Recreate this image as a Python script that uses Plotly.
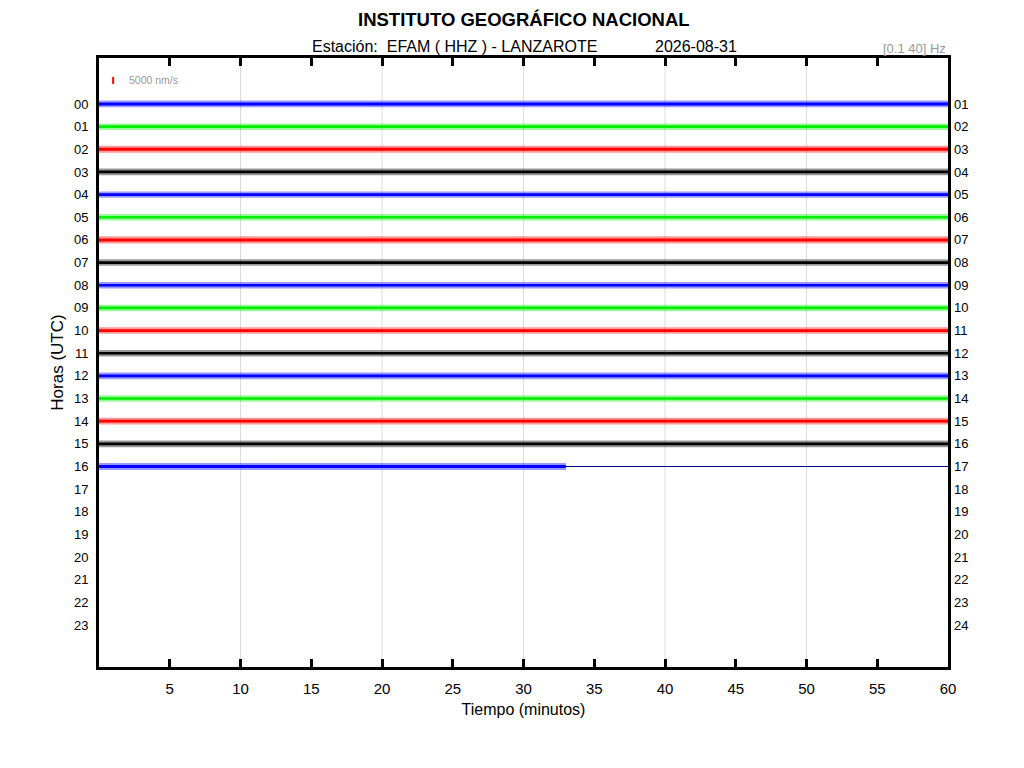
import plotly.graph_objects as go

# helicorder EFAM HHZ, una fila por hora
hours = list(range(24))
left_labels = ["%02d" % h for h in hours]
right_labels = ["%02d" % (h + 1) for h in hours]

# semiamplitud aproximada de cada traza (nm/s)
trace_hours = list(range(17))
trace_core = [1000, 950, 1050, 1000, 950, 950, 1100, 950, 950,
              950, 950, 950, 1000, 950, 1000, 1000, 1000]
trace_peak = [2400, 2300, 2500, 2400, 2300, 2300, 2600, 2300, 2300,
              2300, 2300, 2300, 2400, 2300, 2400, 2400, 2500]
trace_end = [60] * 16 + [33.0]   # la hora 16 llega hasta el minuto 33
colors = ["#0000ff", "#00ee00", "#ff0000", "#000000"]

x_ticks = [5, 10, 15, 20, 25, 30, 35, 40, 45, 50, 55, 60]
grid_minutes = [10, 20, 30, 40, 50]

scale_nms = 5000
scale_rows = 0.31   # altura de la barra de escala en filas

fig = go.Figure()

for m in grid_minutes:
    fig.add_shape(type="line", x0=m, x1=m, y0=0, y1=1, yref="paper",
                  line=dict(color="#dcdcdc", width=1), layer="below")


def band(h, a, end, c, opacity):
    return go.Scatter(x=[0, end, end, 0, 0], y=[h - a, h - a, h + a, h + a, h - a],
                      fill="toself", fillcolor=c, mode="none", opacity=opacity,
                      hoverinfo="skip", showlegend=False)


for i, h in enumerate(trace_hours):
    end = trace_end[i]
    c = colors[i % 4]
    fig.add_trace(band(h, trace_peak[i] * scale_rows / scale_nms, end, c, 0.4))
    fig.add_trace(band(h, trace_core[i] * scale_rows / scale_nms, end, c, 1.0))
    if end < 60:
        fig.add_trace(go.Scatter(x=[end, 60], y=[h, h], mode="lines",
                                 line=dict(color="#000080", width=1), showlegend=False))

# barra de escala
fig.add_trace(go.Scatter(x=[1.0, 1.0], y=[-1.04 - scale_rows / 2, -1.04 + scale_rows / 2],
                         mode="lines", line=dict(color="#ff0000", width=2), showlegend=False))
fig.add_annotation(x=1.95, y=-1.04, text="%d nm/s" % scale_nms, showarrow=False,
                   xanchor="left", font=dict(size=10.5, color="#999999"))

# eje derecho (01..24)
fig.add_trace(go.Scatter(x=[0], y=[0], yaxis="y2", mode="markers",
                         marker=dict(opacity=0), showlegend=False, hoverinfo="skip"))

# el body de la pagina tiene 8px de margen: se descuentan aqui
fig.update_layout(
    width=1016, height=760,
    margin=dict(l=91, r=76, t=50, b=101),
    plot_bgcolor="white", paper_bgcolor="white",
    font=dict(family="Liberation Sans, Arial, sans-serif", color="black"),
    xaxis=dict(range=[0, 60], tickvals=x_ticks, ticks="inside", ticklen=8, tickwidth=3,
               tickcolor="black", showgrid=False, zeroline=False, showline=True,
               linewidth=3, linecolor="black", mirror="ticks", tickfont=dict(size=15),
               ticklabelstandoff=6, automargin=False,
               title=dict(text="Tiempo (minutos)", font=dict(size=16), standoff=8)),
    yaxis=dict(range=[24.85, -2.03], tickvals=hours, ticktext=left_labels, ticks="",
               showgrid=False, zeroline=False, showline=True, linewidth=3,
               linecolor="black", mirror=True, tickfont=dict(size=13),
               ticklabelstandoff=5, automargin=False,
               title=dict(text="Horas (UTC)", font=dict(size=17), standoff=6)),
    yaxis2=dict(range=[24.85, -2.03], tickvals=hours, ticktext=right_labels, ticks="",
                overlaying="y", side="right", showgrid=False, zeroline=False,
                showline=False, tickfont=dict(size=13), ticklabelstandoff=5,
                automargin=False),
)

fig.add_annotation(text="<b>INSTITUTO GEOGRÁFICO NACIONAL</b>", x=0.5, y=1.0624,
                   xref="paper", yref="paper", xanchor="center", yanchor="middle",
                   showarrow=False, font=dict(size=18.5))
fig.add_annotation(text="Estación:  EFAM ( HHZ ) - LANZAROTE", x=0.4187, y=1.0197,
                   xref="paper", yref="paper", xanchor="center", yanchor="middle",
                   showarrow=False, font=dict(size=16))
fig.add_annotation(text="2026-08-31", x=0.7032, y=1.0197,
                   xref="paper", yref="paper", xanchor="center", yanchor="middle",
                   showarrow=False, font=dict(size=16))
fig.add_annotation(text="[0.1 40] Hz", x=1.0, y=1.0164, xref="paper", yref="paper",
                   xanchor="right", yanchor="middle", showarrow=False,
                   font=dict(size=13, color="#999999"))

fig.write_html("out.html")
